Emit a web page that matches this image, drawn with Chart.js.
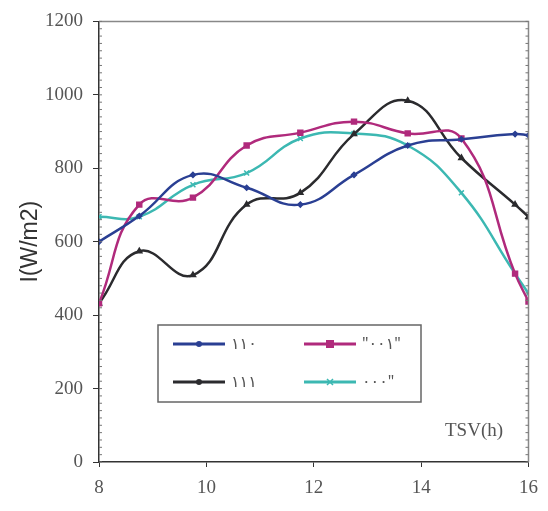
<!DOCTYPE html>
<html>
<head>
<meta charset="utf-8">
<script src="https://cdn.jsdelivr.net/npm/chart.js@4.4.1/dist/chart.umd.min.js"></script>
<style>
  html, body { margin: 0; padding: 0; background: #fff; }
  #wrap { width: 548px; height: 511px; }
</style>
</head>
<body>
<div id="wrap"><canvas id="irrChart" width="548" height="511"></canvas></div>
<script>
  // hours (solar time) of each reading
  const hours = [8, 8.75, 9.75, 10.75, 11.75, 12.75, 13.75, 14.75, 15.75, 16];

  const labels = ['۱۱۰', '"۰۰۱"', '۱۱۱', '۰۰۰"'];

  const s110 = [600, 670, 782, 747, 701, 782, 862, 879, 893, 890];
  const s001 = [432, 701, 720, 862, 897, 927, 895, 881, 513, 437];
  const s111 = [432, 574, 509, 701, 733, 893, 984, 828, 701, 668];
  const s000 = [668, 668, 755, 787, 881, 895, 862, 733, 513, 459];

  const yTicks = [0, 200, 400, 600, 800, 1000, 1200];
  const xTicks = [8, 10, 12, 14, 16];

  const colors = ['#2a3f93', '#b02a7c', '#2b2b2e', '#3cb8b2'];

  function pts(vals) {
    return hours.map((h, i) => ({ x: h, y: vals[i] }));
  }

  // frame, minor ticks, in-plot legend and TSV(h) label
  const framePlugin = {
    id: 'frame',
    afterDraw(chart) {
      const { ctx, chartArea: a, scales } = chart;
      ctx.save();
      ctx.strokeStyle = '#888';
      ctx.lineWidth = 1.5;
      ctx.beginPath();
      ctx.moveTo(a.left, a.top);
      ctx.lineTo(a.right, a.top);
      ctx.lineTo(a.right, a.bottom);
      ctx.stroke();

      // minor ticks on left and right edges
      ctx.lineWidth = 1;
      ctx.strokeStyle = '#777';
      for (let v = 0; v <= 1200; v += 20) {
        const y = scales.y.getPixelForValue(v);
        ctx.beginPath();
        ctx.moveTo(a.left, y); ctx.lineTo(a.left + 3, y);
        ctx.moveTo(a.right, y); ctx.lineTo(a.right - 3, y);
        ctx.stroke();
      }

      // legend box
      const bx = 158, by = 325, bw = 263, bh = 77;
      ctx.fillStyle = '#fff';
      ctx.fillRect(bx, by, bw, bh);
      ctx.strokeStyle = '#666';
      ctx.lineWidth = 1.5;
      ctx.strokeRect(bx, by, bw, bh);
      ctx.font = '16px "Noto Sans", "DejaVu Sans", sans-serif';
      ctx.textBaseline = 'middle';
      chart.data.datasets.forEach((ds, i) => {
        const col = i % 2, row = Math.floor(i / 2);
        const x0 = bx + 15 + col * 131;
        const y0 = by + 19 + row * 38;
        ctx.strokeStyle = ds.borderColor;
        ctx.lineWidth = 3;
        ctx.beginPath();
        ctx.moveTo(x0, y0); ctx.lineTo(x0 + 52, y0);
        ctx.stroke();
        ctx.fillStyle = ds.borderColor;
        const mx = x0 + 26;
        if (ds.pointStyle === 'rect') {
          ctx.fillRect(mx - 4, y0 - 4, 8, 8);
        } else if (ds.pointStyle === 'crossRot') {
          ctx.lineWidth = 1.5;
          ctx.beginPath();
          ctx.moveTo(mx - 3, y0 - 3); ctx.lineTo(mx + 3, y0 + 3);
          ctx.moveTo(mx + 3, y0 - 3); ctx.lineTo(mx - 3, y0 + 3);
          ctx.stroke();
        } else {
          ctx.beginPath();
          ctx.arc(mx, y0, 3, 0, Math.PI * 2);
          ctx.fill();
        }
        ctx.fillStyle = '#555';
        ctx.textAlign = 'left';
        ctx.fillText(ds.label, x0 + 58, y0);
      });

      ctx.font = '19px "Liberation Serif", serif';
      ctx.fillStyle = '#555';
      ctx.textAlign = 'left';
      ctx.fillText('TSV(h)', 445, 431);
      ctx.restore();
    }
  };

  const tickFont = { family: '"Liberation Serif", serif', size: 19 };

  const ctx = document.getElementById('irrChart').getContext('2d');
  new Chart(ctx, {
    type: 'line',
    data: {
      datasets: [
        { label: labels[0], data: pts(s110), borderColor: colors[0], backgroundColor: colors[0], pointStyle: 'rectRot', pointRadius: 2.5 },
        { label: labels[1], data: pts(s001), borderColor: colors[1], backgroundColor: colors[1], pointStyle: 'rect', pointRadius: 3.5 },
        { label: labels[2], data: pts(s111), borderColor: colors[2], backgroundColor: colors[2], pointStyle: 'triangle', pointRadius: 3 },
        { label: labels[3], data: pts(s000), borderColor: colors[3], backgroundColor: colors[3], pointStyle: 'crossRot', pointRadius: 3.5 }
      ]
    },
    options: {
      responsive: false,
      animation: false,
      layout: { padding: { top: 17, right: 18, left: 0, bottom: 0 } },
      elements: {
        line: { tension: 0.45, borderWidth: 2.5 },
        point: { borderWidth: 1.5 }
      },
      plugins: {
        legend: { display: false },
        tooltip: { enabled: false }
      },
      scales: {
        x: {
          type: 'linear',
          min: 8, max: 16,
          afterFit(scale) { scale.height = 49; },
          afterBuildTicks(scale) { scale.ticks = xTicks.map(v => ({ value: v })); },
          grid: { drawOnChartArea: false, tickLength: 5, color: '#333' },
          border: { color: '#333', width: 1.5 },
          ticks: { color: '#555', padding: 10, font: tickFont, callback: v => String(v) }
        },
        y: {
          min: 0, max: 1200,
          afterFit(scale) { scale.width = 99; },
          afterBuildTicks(scale) { scale.ticks = yTicks.map(v => ({ value: v })); },
          grid: { drawOnChartArea: false, tickLength: 6, color: '#333' },
          border: { color: '#333', width: 1.5 },
          ticks: { color: '#555', padding: 10, font: tickFont, callback: v => String(v) },
          title: {
            display: true,
            text: 'I(W/m2)',
            color: '#333',
            padding: { top: 17, bottom: 0 },
            font: { family: '"Liberation Sans", Arial, sans-serif', size: 23 }
          }
        }
      }
    },
    plugins: [framePlugin]
  });
</script>
</body>
</html>
